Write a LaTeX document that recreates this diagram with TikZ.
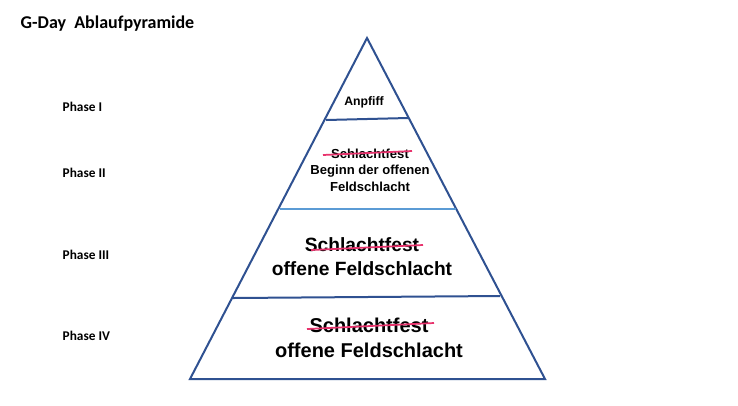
\documentclass[tikz,border=0pt]{standalone}
\usepackage{fontspec}
\setmainfont{Liberation Sans}
\newfontfamily\calibri{Carlito}
\definecolor{pyrblue}{HTML}{2F5191}
\definecolor{pyrlight}{HTML}{5B9BD5}
\definecolor{strikered}{HTML}{E8336D}
\tikzset{
  pyrline/.style={draw=pyrblue, line width=1.5pt},
  phaselabel/.style={anchor=west, font=\calibri\bfseries\fontsize{10}{12}\selectfont},
  levelbox/.style={align=center, font=\bfseries},
  strike/.style={draw=strikered, line width=1.3pt}
}
\begin{document}
\begin{tikzpicture}[x=0.75pt,y=-0.75pt]
        \useasboundingbox[fill=white] (0,0) rectangle (738,405);
        % pyramid outline
        \coordinate (apex) at (367,38);
        \coordinate (bl) at (190,379);
        \coordinate (br) at (545,379);
        \draw[pyrline, line join=miter] (apex) -- (br) -- (bl) -- cycle;
        \draw[pyrline] (326,120) -- (408,118);
        \draw[draw=pyrlight, line width=1.5pt] (280,209) -- (456,209);
        \draw[pyrline] (233,298) -- (500,296);
        % title and phases
        \node[anchor=west, font=\calibri\bfseries\fontsize{13.5}{16}\selectfont] (title) at (16,24) {G-Day\ \ Ablaufpyramide};
        \node[phaselabel] (p1) at (58,107) {Phase I};
        \node[phaselabel] (p2) at (58,173) {Phase II};
        \node[phaselabel] (p3) at (58,255) {Phase III};
        \node[phaselabel] (p4) at (58,336) {Phase IV};
        % level texts
        \node[levelbox, font=\bfseries\fontsize{9.2}{11}\selectfont] (l1) at (364,102) {Anpfiff};
        \node[levelbox, font=\bfseries\fontsize{9.8}{12.4}\selectfont] (l2) at (370,170) {Schlachtfest\\Beginn der offenen\\Feldschlacht};
        \node[levelbox, font=\bfseries\fontsize{14.4}{18}\selectfont] (l3) at (362,257) {Schlachtfest\\offene Feldschlacht};
        \node[levelbox, font=\bfseries\fontsize{15}{18.8}\selectfont] (l4) at (369,338) {Schlachtfest\\offene Feldschlacht};
        % strike-throughs
        \draw[strike] (323,155) -- (412,151);
        \draw[strike] (311,250) -- (423,245);
        \draw[strike] (307,329) -- (434,323);
    \end{tikzpicture}
\end{document}
